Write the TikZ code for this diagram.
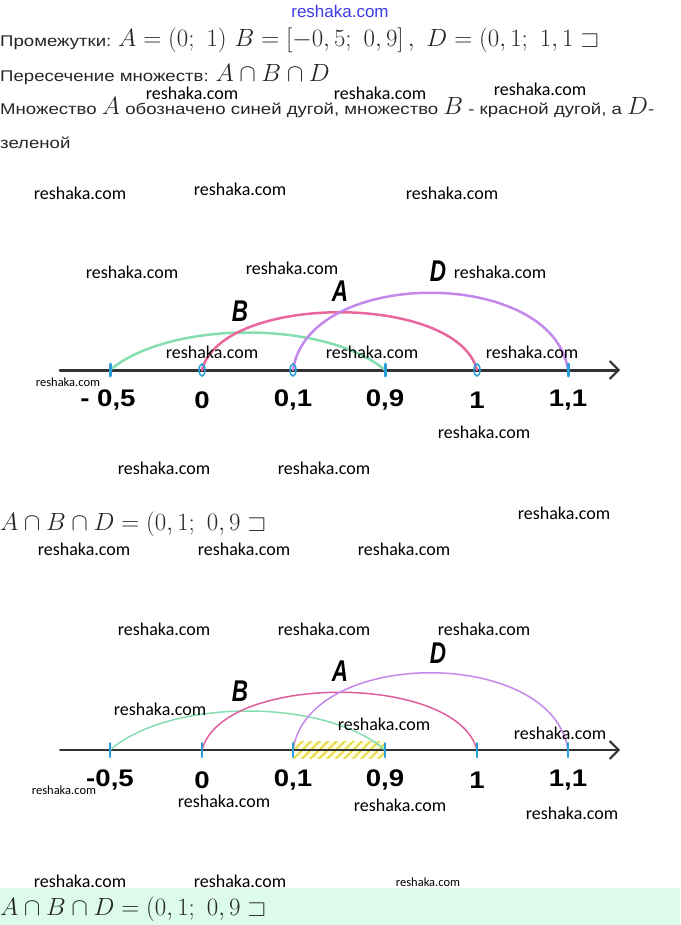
\documentclass[tikz,border=0pt]{standalone}
\usepackage{amssymb}
\usepackage{fontspec}
\setmainfont{Liberation Sans}
\newfontfamily\bodyfont[FakeStretch=1.2]{Liberation Sans}
\newfontfamily\numfont[FakeStretch=1.15]{Liberation Sans}
\newfontfamily\wmfont{Carlito}
\usetikzlibrary{arrows.meta,patterns.meta}
\definecolor{arcB}{HTML}{86DDB0}
\definecolor{arcA}{HTML}{E8689E}
\definecolor{arcD}{HTML}{C488EA}
\definecolor{tickblue}{HTML}{2A9ED8}
\definecolor{axisgray}{HTML}{333333}
\definecolor{mint}{HTML}{DDFBEA}
\definecolor{linkblue}{HTML}{3B3BE8}
\definecolor{hatchyellow}{HTML}{E6D840}
\newcommand{\mth}[1]{{\fontsize{23.5}{23.5}\selectfont$#1$}}
\tikzset{
  txt/.style={anchor=base west, inner sep=0pt, text=black!85, font=\bodyfont\fontsize{15.5}{16}\selectfont},
  wm/.style={inner sep=0pt, font=\wmfont\fontsize{18}{18}\selectfont},
  wmsmall/.style={inner sep=0pt, font=\wmfont\fontsize{12.5}{12.5}\selectfont},
  num/.style={inner sep=0pt, font=\numfont\bfseries\fontsize{24}{24}\selectfont},
  setname/.style={inner sep=0pt, font=\bfseries\itshape\fontsize{30}{30}\selectfont, xscale=0.75, transform shape},
  axisline/.style={axisgray, -{Straight Barb[length=9pt, width=18pt, line width=2pt]}},
}
\begin{document}
\begin{tikzpicture}[x=1pt, y=-1pt, line cap=round]
\useasboundingbox (0,0) rectangle (680,925);
% answer band
\fill[mint] (0,888) rectangle (680,925);
% header and text
\node[inner sep=0pt, text=linkblue, font=\fontsize{17}{17}\selectfont] (site) at (340,11) {reshaka.com};
\node[txt] (intervals) at (0,47) {Промежутки: \mth{A=(0;\ 1)\ B=[-0,5;\ 0,9]\,,\ D=(0,1;\ 1,1\sqsupset}};
\node[txt] (task) at (0,82) {Пересечение множеств: \mth{A\cap B\cap D}};
\node[txt] (legend) at (0,115) {Множество \mth{A} обозначено синей дугой, множество \mth{B} - красной дугой, а \mth{D}-};
\node[txt] (legend2) at (0,149) {зеленой};

% first number line
\coordinate (p1a) at (110,370);
\coordinate (p1b) at (202,370);
\coordinate (p1c) at (293,370);
\coordinate (p1d) at (385,370);
\coordinate (p1e) at (477,370);
\coordinate (p1f) at (568,370);
\coordinate (ax1s) at (60,370);
\coordinate (ax1e) at (620,370);
\draw[axisline, line width=3pt] (ax1s) -- (ax1e);
\draw[arcB, line width=2.5pt] (p1a) .. controls +(60,-50) and +(-60,-50) .. (p1d);
\draw[arcA, line width=2.5pt] (p1b) .. controls +(20,-77) and +(-20,-77) .. (p1e);
\draw[arcD, line width=2.5pt] (p1c) .. controls +(15,-103) and +(-15,-103) .. (p1f);
\draw[tickblue, line width=3pt] (p1a) ++(0,-6) -- ++(0,12);
\draw[tickblue, line width=3pt] (p1d) ++(0,-6) -- ++(0,12);
\draw[tickblue, line width=3pt] (p1f) ++(0,-6) -- ++(0,12);
\draw[tickblue, line width=1.5pt] (p1b) ellipse[x radius=3, y radius=6];
\draw[tickblue, line width=1.5pt] (p1c) ellipse[x radius=3, y radius=6];
\draw[tickblue, line width=1.5pt] (p1e) ellipse[x radius=3, y radius=6];
\node[num] (n1a) at (108,400) {- 0,5};
\node[num] (n1b) at (202,400) {0};
\node[num] (n1c) at (293,400) {0,1};
\node[num] (n1d) at (385,400) {0,9};
\node[num] (n1e) at (477,400) {1};
\node[num] (n1f) at (568,400) {1,1};
\node[setname] (setB1) at (240,311) {B};
\node[setname] (setA1) at (340,291) {A};
\node[setname] (setD1) at (438,271) {D};

\node[txt] (answer1) at (0,530) {\mth{A\cap B\cap D=(0,1;\ 0,9\sqsupset}};

% second number line
\coordinate (p2a) at (110,750);
\coordinate (p2b) at (202,750);
\coordinate (p2c) at (293,750);
\coordinate (p2d) at (385,750);
\coordinate (p2e) at (477,750);
\coordinate (p2f) at (568,750);
\coordinate (ax2s) at (60,750);
\coordinate (ax2e) at (620,750);
\fill[yellow!12] (293,741) rectangle (385,758);
\fill[pattern={Lines[angle=45, distance=6pt, line width=1.8pt]}, pattern color=hatchyellow] (293,741) rectangle (385,758);
\draw[axisline, line width=1.8pt] (ax2s) -- (ax2e);
\draw[arcB, line width=1.5pt] (p2a) .. controls +(60,-52) and +(-60,-52) .. (p2d);
\draw[arcA!90!violet, line width=1.5pt] (p2b) .. controls +(20,-77) and +(-20,-77) .. (p2e);
\draw[arcD, line width=1.5pt] (p2c) .. controls +(15,-103) and +(-15,-103) .. (p2f);
\foreach \p in {p2a,p2b,p2c,p2d,p2e,p2f}
  \draw[tickblue, line width=2pt] (\p) ++(0,-7) -- ++(0,14);
\node[num] (n2a) at (110,780) {-0,5};
\node[num] (n2b) at (202,780) {0};
\node[num] (n2c) at (293,780) {0,1};
\node[num] (n2d) at (385,780) {0,9};
\node[num] (n2e) at (477,780) {1};
\node[num] (n2f) at (568,780) {1,1};
\node[setname] (setB2) at (240,691) {B};
\node[setname] (setA2) at (340,671) {A};
\node[setname] (setD2) at (438,653) {D};

\node[txt] (answer2) at (0,915) {\mth{A\cap B\cap D=(0,1;\ 0,9\sqsupset}};

% watermarks
\foreach \x/\y [count=\i] in {192/93, 380/93, 540/89, 80/193, 240/189, 452/193,
    132/272, 292/268, 500/272, 212/352, 372/352, 532/352, 484/432, 164/468, 324/468,
    564/513, 84/549, 244/549, 404/549, 164/629, 324/629, 484/629, 160/709, 384/724,
    560/733, 224/801, 400/805, 572/813, 80/881, 240/881}
  \node[wm] (wm\i) at (\x,\y) {reshaka.com};
\node[wmsmall] (wms1) at (68,382) {reshaka.com};
\node[wmsmall] (wms2) at (64,790) {reshaka.com};
\node[wmsmall] (wms3) at (428,882) {reshaka.com};
\end{tikzpicture}
\end{document}
